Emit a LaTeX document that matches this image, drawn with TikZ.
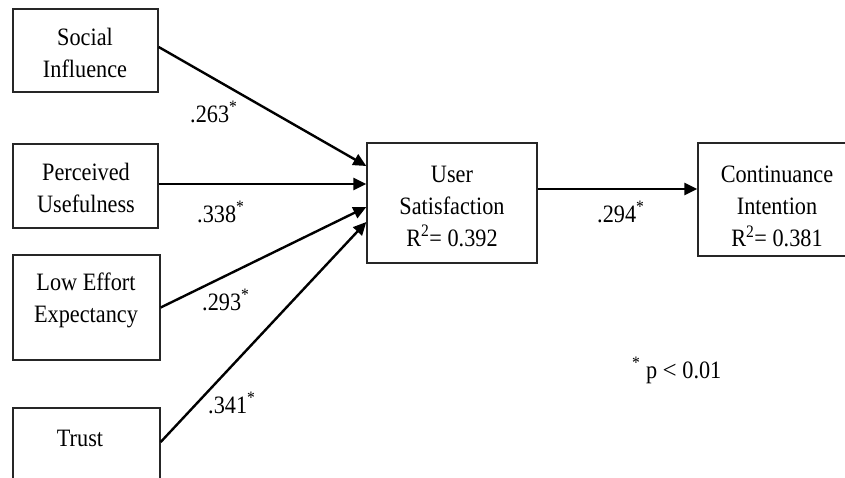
\documentclass[tikz,border=0pt]{standalone}
\usepackage{fontspec}
\setmainfont{Liberation Serif}[FakeStretch=0.89]
\usetikzlibrary{arrows.meta}

\tikzset{
  box/.style={draw=black!85, line width=1.4pt, rectangle, inner sep=0pt},
  txt/.style={align=center, inner sep=0pt, font=\fontsize{25}{32}\selectfont},
  coef/.style={anchor=base west, inner sep=0pt, font=\fontsize{25}{32}\selectfont},
  path/.style={line width=2.4pt, -{Triangle[length=13pt,width=12pt]}}
}

\begin{document}
\begin{tikzpicture}[x=1pt,y=-1pt]
\useasboundingbox (0,0) rectangle (845,477);
\clip (0,0) rectangle (845,477);
\fill[white] (0,0) rectangle (845,477);

% antecedent constructs
\node[box, minimum width=145pt, minimum height=83pt] (si) at (85.5,50.5) {};
\node[txt] (sit) at (85,53) {Social\\Influence};
\node[box, minimum width=145pt, minimum height=84pt] (pu) at (85.5,186) {};
\node[txt] (put) at (86,188) {Perceived\\Usefulness};
\node[box, minimum width=147pt, minimum height=105pt] (lee) at (86.5,307.5) {};
\node[txt] (leet) at (86,300) {Low Effort\\Expectancy};
\node[box, minimum width=147pt, minimum height=112pt] (tr) at (86.5,464) {};
\node[txt] (trt) at (80,438) {Trust};

% mediator and outcome
\node[box, minimum width=170pt, minimum height=120pt] (us) at (452,203) {};
\node[txt] (ust) at (452,206) {User\\Satisfaction\\R\textsuperscript{2}= 0.392};
\node[box, minimum width=172pt, minimum height=113pt] (ci) at (784,199.5) {};
\node[txt] (cit) at (777,206) {Continuance\\Intention\\R\textsuperscript{2}= 0.381};

% structural paths
\draw[path] ([yshift=3.5pt]si.east) -- ([yshift=37pt]us.west);
\draw[path] ([yshift=2pt]pu.east) -- ([yshift=19pt]us.west);
\draw[path] (lee.east) -- ([yshift=-4pt]us.west);
\draw[path] ([yshift=22pt]tr.west -| tr.east) -- ([yshift=-19pt]us.west);
\draw[path] ([yshift=14pt]us.east) -- ([yshift=10.5pt]ci.west);

% path coefficients
\node[coef] (c1) at (190,122) {.263\textsuperscript{*}};
\node[coef] (c2) at (197,222) {.338\textsuperscript{*}};
\node[coef] (c3) at (202,310) {.293\textsuperscript{*}};
\node[coef] (c4) at (208,413) {.341\textsuperscript{*}};
\node[coef] (c5) at (597,222) {.294\textsuperscript{*}};
\node[coef] (note) at (632,378) {\textsuperscript{*} p {\fontspec{Liberation Serif}<} 0.01};
\end{tikzpicture}
\end{document}
